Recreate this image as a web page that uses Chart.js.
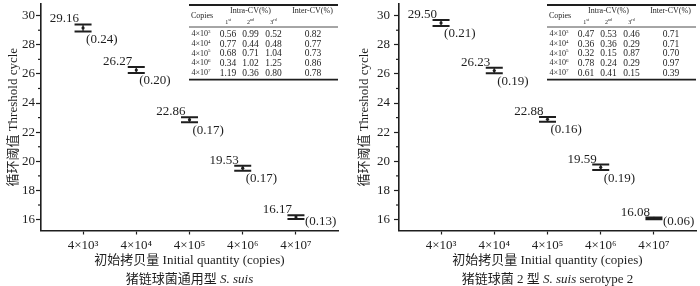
<!DOCTYPE html>
<html>
<head>
<meta charset="utf-8">
<script src="https://cdn.jsdelivr.net/npm/chart.js"></script>
<style>
  html, body { margin: 0; padding: 0; background: #fff; }
  #wrap { position: relative; width: 700px; height: 286px; }
  .panel { position: absolute; top: 0; width: 350px; height: 286px; }
</style>
</head>
<body>
<div id="wrap">
  <div class="panel" style="left:0"><canvas id="c1" width="350" height="286"></canvas></div>
  <div class="panel" style="left:350px"><canvas id="c2" width="350" height="286"></canvas></div>
</div>
<script>
// shared axis data
const copiesExp = [3, 4, 5, 6, 7];
const yTicks = [16, 18, 20, 22, 24, 26, 28, 30];
const yMinor = [17, 19, 21, 23, 25, 27, 29];

// left: S. suis (general)
const genMeans = [29.16, 26.27, 22.86, 19.53, 16.17];
const genSds = [0.24, 0.20, 0.17, 0.17, 0.13];
const genIntra1 = [0.56, 0.77, 0.68, 0.34, 1.19];
const genIntra2 = [0.99, 0.44, 0.71, 1.02, 0.36];
const genIntra3 = [0.52, 0.48, 1.04, 1.25, 0.80];
const genInter = [0.82, 0.77, 0.73, 0.86, 0.78];

// right: S. suis serotype 2
const st2Means = [29.50, 26.23, 22.88, 19.59, 16.08];
const st2Sds = [0.21, 0.19, 0.16, 0.19, 0.06];
const st2Intra1 = [0.47, 0.36, 0.32, 0.78, 0.61];
const st2Intra2 = [0.53, 0.36, 0.15, 0.24, 0.41];
const st2Intra3 = [0.46, 0.29, 0.87, 0.29, 0.15];
const st2Inter = [0.71, 0.71, 0.70, 0.97, 0.39];

const ink = '#1e1e1e';
const serif = "'Liberation Serif', 'Noto Sans CJK SC', serif";
const supMap = { '3': '\u00b3', '4': '\u2074', '5': '\u2075', '6': '\u2076', '7': '\u2077' };
const tickLabels = copiesExp.map(e => '4\u00d710' + supMap[e]);

Chart.defaults.font.family = serif;
Chart.defaults.color = ink;

// text with a raised small part, e.g. 4×10^3 or 1^st
function supText(ctx, base, sup, x, y, size, supSize, align) {
  ctx.font = size + 'px ' + serif;
  const bw = ctx.measureText(base).width;
  ctx.font = supSize + 'px ' + serif;
  const sw = ctx.measureText(sup).width;
  let x0 = x;
  if (align === 'center') x0 = x - (bw + sw) / 2;
  ctx.textAlign = 'left';
  ctx.font = size + 'px ' + serif;
  ctx.fillText(base, x0, y);
  ctx.font = supSize + 'px ' + serif;
  ctx.fillText(sup, x0 + bw, y - size * 0.35);
}

const extras = {
  id: 'extras',
  afterDatasetsDraw(chart, args, o) {
    const { ctx, chartArea } = chart;
    const xs = chart.scales.x, ys = chart.scales.y;
    ctx.save();
    ctx.strokeStyle = ink;
    ctx.fillStyle = ink;

    // minor y ticks
    ctx.lineWidth = 1.2;
    yMinor.forEach(v => {
      const py = ys.getPixelForValue(v);
      ctx.beginPath();
      ctx.moveTo(chartArea.left - 3, py);
      ctx.lineTo(chartArea.left, py);
      ctx.stroke();
    });

    // error bars + labels
    o.means.forEach((m, i) => {
      const cx = xs.getPixelForValue(i);
      const yt = ys.getPixelForValue(m + o.sds[i]);
      const yb = ys.getPixelForValue(m - o.sds[i]);
      const hw = 8.5;
      ctx.lineWidth = 2;
      ctx.beginPath();
      ctx.moveTo(cx - hw, yt); ctx.lineTo(cx + hw, yt);
      ctx.moveTo(cx - hw, yb); ctx.lineTo(cx + hw, yb);
      ctx.stroke();
      ctx.lineWidth = 1.2;
      ctx.beginPath();
      ctx.moveTo(cx, yt); ctx.lineTo(cx, yb);
      ctx.stroke();

      ctx.font = '13px ' + serif;
      ctx.textBaseline = 'alphabetic';
      ctx.textAlign = 'right';
      ctx.fillText(m.toFixed(2), cx - 4, yt - 2);
      let sx = cx + 3, sy = yb + 11.5;
      if (sy > chartArea.bottom - 3) {
        sx = cx + hw + 0.5;
        sy = chartArea.bottom - 5.5;
      }
      ctx.textAlign = 'left';
      ctx.fillText('(' + o.sds[i].toFixed(2) + ')', sx, sy);
    });

    // inset table
    const tl = chartArea.left + 148, tr = chartArea.right, tt = chartArea.top;
    ctx.lineWidth = 1.8;
    ctx.beginPath();
    ctx.moveTo(tl, tt + 1); ctx.lineTo(tr, tt + 1);
    ctx.moveTo(tl, tt + 75.7); ctx.lineTo(tr, tt + 75.7);
    ctx.stroke();
    ctx.lineWidth = 0.8;
    ctx.beginPath();
    ctx.moveTo(tl, tt + 23); ctx.lineTo(tr, tt + 23);
    ctx.stroke();

    const cols = [tl + 12, tl + 39, tl + 61.5, tl + 84.5, tl + 124];
    ctx.textBaseline = 'middle';
    ctx.font = '8px ' + serif;
    ctx.textAlign = 'left';
    ctx.fillText('Copies', tl + 2, tt + 12.3);
    ctx.textAlign = 'center';
    ctx.fillText('Intra-CV(%)', cols[2], tt + 7);
    ctx.fillText('Inter-CV(%)', tl + 123.5, tt + 7);
    supText(ctx, '1', 'st', cols[1], tt + 18, 6, 4, 'center');
    supText(ctx, '2', 'nd', cols[2], tt + 18, 6, 4, 'center');
    supText(ctx, '3', 'rd', cols[3], tt + 18, 6, 4, 'center');

    copiesExp.forEach((e, r) => {
      const ry = tt + 30.3 + r * 9.7;
      supText(ctx, '4\u00d710', String(e), cols[0], ry, 8, 5, 'center');
      ctx.font = '9.5px ' + serif;
      ctx.textAlign = 'center';
      ctx.fillText(o.intra1[r].toFixed(2), cols[1], ry);
      ctx.fillText(o.intra2[r].toFixed(2), cols[2], ry);
      ctx.fillText(o.intra3[r].toFixed(2), cols[3], ry);
      ctx.fillText(o.inter[r].toFixed(2), cols[4], ry);
    });

    // caption below the axis title
    ctx.font = '13px ' + serif;
    const parts = o.caption.map(p => {
      ctx.font = (p.italic ? 'italic ' : '') + '13px ' + serif;
      return { t: p.t, italic: p.italic, w: ctx.measureText(p.t).width };
    });
    const total = parts.reduce((s, p) => s + p.w, 0);
    let px = (chartArea.left + chartArea.right) / 2 - total / 2;
    ctx.textAlign = 'left';
    ctx.textBaseline = 'middle';
    parts.forEach(p => {
      ctx.font = (p.italic ? 'italic ' : '') + '13px ' + serif;
      ctx.fillText(p.t, px, 279.3);
      px += p.w;
    });
    ctx.restore();
  }
};

function makePanel(id, p) {
  return new Chart(document.getElementById(id), {
    type: 'scatter',
    data: {
      datasets: [{
        data: p.means.map((m, i) => ({ x: i, y: m })),
        pointRadius: 1.6,
        pointBackgroundColor: ink,
        pointBorderWidth: 0
      }]
    },
    options: {
      responsive: false,
      animation: false,
      devicePixelRatio: 1,
      layout: { padding: { top: 3, right: p.padRight, left: 0, bottom: 0 } },
      plugins: {
        legend: { display: false },
        tooltip: { enabled: false },
        extras: p
      },
      scales: {
        x: {
          type: 'linear',
          min: -0.79,
          max: 4.79,
          afterBuildTicks: s => { s.ticks = copiesExp.map((e, i) => ({ value: i })); },
          afterFit: s => { s.height = 55.5; s.paddingLeft = 0; s.paddingRight = 0; },
          border: { color: ink, width: 1.6 },
          grid: { drawOnChartArea: false, tickLength: 4, color: ink, tickWidth: 1.2 },
          ticks: {
            callback: v => tickLabels[v],
            font: { size: 13 },
            padding: 3,
            maxRotation: 0,
            autoSkip: false
          },
          title: {
            display: true,
            text: '初始拷贝量 Initial quantity (copies)',
            font: { size: 13 },
            padding: { top: 0, bottom: 17.5 }
          }
        },
        y: {
          min: 15.25,
          max: 30.8,
          afterBuildTicks: s => { s.ticks = yTicks.map(v => ({ value: v })); },
          afterFit: s => { s.width = p.yWidth; s.paddingTop = 0; s.paddingBottom = 0; },
          border: { color: ink, width: 1.6 },
          grid: { drawOnChartArea: false, tickLength: 5, color: ink, tickWidth: 1.2 },
          ticks: { font: { size: 13 }, padding: p.tickPad },
          title: {
            display: true,
            text: '循环阈值 Threshold cycle',
            font: { size: 13 },
            padding: { top: p.titlePad, bottom: 0 }
          }
        }
      }
    },
    plugins: [extras]
  });
}

makePanel('c1', {
  means: genMeans, sds: genSds,
  intra1: genIntra1, intra2: genIntra2, intra3: genIntra3, inter: genInter,
  caption: [{ t: '猪链球菌通用型 ', italic: false }, { t: 'S. suis', italic: true }],
  yWidth: 41, padRight: 12, tickPad: 1, titlePad: 5.5
});

makePanel('c2', {
  means: st2Means, sds: st2Sds,
  intra1: st2Intra1, intra2: st2Intra2, intra3: st2Intra3, inter: st2Inter,
  caption: [{ t: '猪链球菌 2 型 ', italic: false }, { t: 'S. suis', italic: true }, { t: ' serotype 2', italic: false }],
  yWidth: 49, padRight: 2, tickPad: 4, titlePad: 7.2
});
</script>
</body>
</html>
